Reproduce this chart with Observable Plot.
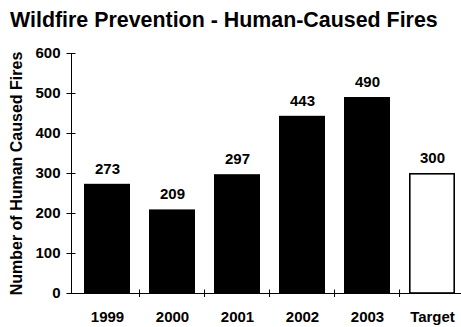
<!DOCTYPE html>
<html><head><meta charset="utf-8">
<script src="https://cdn.jsdelivr.net/npm/d3@7"></script>
<script src="https://cdn.jsdelivr.net/npm/@observablehq/plot@0.6"></script>
<style>
html,body{margin:0;padding:0;background:#fff;}
#title{box-sizing:border-box;height:36px;padding:10px 0 0 10px;font:bold 21.4px "Liberation Sans",Arial,sans-serif;line-height:21px;color:#000;white-space:nowrap;}
svg{display:block}
</style></head><body>
<div id="title">Wildfire Prevention - Human-Caused Fires</div>
<div id="chart"></div>
<script>
const categories = ["1999", "2000", "2001", "2002", "2003", "Target"];
const fires = [273, 209, 297, 443, 490, 300];
const kinds = ["actual", "actual", "actual", "actual", "actual", "target"];
const yTicks = [0, 100, 200, 300, 400, 500, 600];
const yLabel = "Number of Human Caused Fires";

const data = categories.map((c, i) => ({category: c, fires: fires[i], kind: kinds[i]}));
const W = 461, H = 291;
const mL = 71, mR = 0, mT = 17, mB = 34;
const frameW = W - mL - mR, frameH = H - mT - mB;
const xRange = [71, 466.5];
const step = (xRange[1] - xRange[0]) / categories.length;
const font = "Liberation Sans, Arial, sans-serif";

const chart = Plot.plot({
  width: W, height: H,
  marginLeft: mL, marginRight: mR, marginTop: mT, marginBottom: mB,
  style: {fontFamily: font, fontWeight: "bold", color: "#000", background: "#fff", overflow: "visible"},
  x: {domain: categories, range: xRange, paddingInner: 0.3, paddingOuter: 0.15, label: null},
  y: {domain: [0, 600], label: null},
  marks: [
    Plot.barY(data, {filter: d => d.kind === "actual", x: "category", y: "fires", fill: "#000"}),
    Plot.barY(data, {filter: d => d.kind === "target", x: "category", y: "fires", fill: "#fff", stroke: "#000", strokeWidth: 1.6, insetTop: 0.8, insetLeft: 0.8, insetRight: 0.8}),
    Plot.ruleY([0], {stroke: "#000", strokeWidth: 1}),
    Plot.frame({anchor: "left", stroke: "#000", strokeWidth: 1}),
    Plot.tickY(yTicks, {y: d => d, insetLeft: -4.5, insetRight: frameW - 4.5, stroke: "#000", strokeWidth: 1}),
    Plot.axisY(yTicks, {tickSize: 0, tickPadding: 11, fontSize: 15, fontWeight: "bold", label: null}),
    Plot.tickX(categories.slice(1), {x: d => d, dx: -step / 2, insetTop: frameH - 3.5, insetBottom: -4, stroke: "#000", strokeWidth: 1}),
    Plot.axisX({tickSize: 0, tickPadding: 18, fontSize: 15, fontWeight: "bold", label: null}),
    Plot.text(data, {x: "category", y: "fires", text: d => String(d.fires), lineAnchor: "bottom", dy: -10.5, fontSize: 15, fontWeight: "bold", fill: "#000"}),
    Plot.text([yLabel], {frameAnchor: "left", textAnchor: "middle", rotate: -90, dx: -55, fontSize: 16, fontWeight: "bold", fill: "#000"})
  ]
});
document.getElementById("chart").appendChild(chart);
</script>
</body></html>
